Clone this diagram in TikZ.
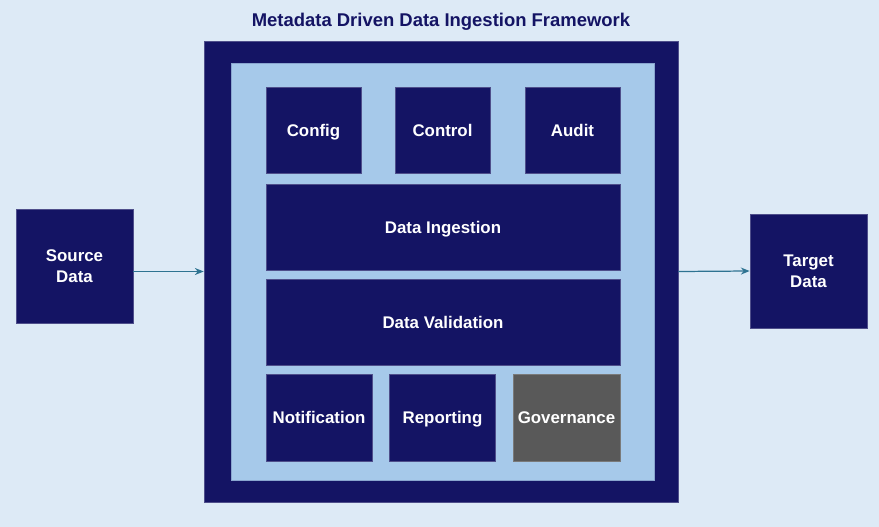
\documentclass[tikz,border=0pt]{standalone}
\usepackage{fontspec}
\setmainfont{Liberation Sans}
\usetikzlibrary{arrows.meta}
\definecolor{bgblue}{HTML}{DDEAF6}
\definecolor{navy}{HTML}{141464}
\definecolor{paleblue}{HTML}{A6C9EA}
\definecolor{govgrey}{HTML}{595959}
\definecolor{flowteal}{HTML}{2E7391}
\tikzset{
  block/.style={fill=navy, draw=navy!75!white, line width=0.4pt, text=white,
    font=\fontsize{9.6}{12}\selectfont\bfseries, align=center, inner sep=0pt},
  oneline/.style={block, text height=1.6ex, text depth=0.3ex},
  flow/.style={flowteal, line width=0.7pt, -{Stealth[length=5pt,width=4pt]}}
}
\begin{document}
\begin{tikzpicture}[x=0.02cm, y=-0.02cm]

\fill[bgblue] (0,0) rectangle (879,527);
\useasboundingbox (0,0) rectangle (879,527);

% framework
\node[block, minimum width=474*0.02cm, minimum height=461*0.02cm] (frame) at (441,271.5) {};
\node[fill=paleblue, draw=paleblue!80!navy, line width=0.3pt, minimum width=423*0.02cm, minimum height=417*0.02cm, inner sep=0pt] (inner) at (442.5,271.5) {};
\node[text=navy, font=\fontsize{10.5}{12}\selectfont\bfseries] (title) at (441,22) {Metadata Driven Data Ingestion Framework};

% top row
\node[oneline, minimum width=95*0.02cm, minimum height=86*0.02cm] (config) at (313.5,130) {Config};
\node[oneline, minimum width=95*0.02cm, minimum height=86*0.02cm] (control) at (442.5,130) {Control};
\node[oneline, minimum width=95*0.02cm, minimum height=86*0.02cm] (audit) at (572.5,130) {Audit};

% wide rows
\node[oneline, minimum width=354*0.02cm, minimum height=86*0.02cm] (ingest) at (443,227) {Data Ingestion};
\node[oneline, minimum width=354*0.02cm, minimum height=86*0.02cm] (valid) at (443,322) {Data Validation};

% bottom row
\node[oneline, minimum width=106*0.02cm, minimum height=87*0.02cm] (notify) at (319,417.5) {Notification};
\node[oneline, minimum width=106*0.02cm, minimum height=87*0.02cm] (report) at (442.5,417.5) {Reporting};
\node[oneline, fill=govgrey, draw=govgrey!80!white, minimum width=107*0.02cm, minimum height=87*0.02cm] (gov) at (566.5,417.5) {Governance};

% source and target
\node[block, minimum width=117*0.02cm, minimum height=114*0.02cm] (src) at (74.5,266) {Source\\Data};
\node[block, minimum width=117*0.02cm, minimum height=114*0.02cm] (tgt) at (808.5,271) {Target\\Data};

\draw[flow] (frame.west -| src.east) -- (frame.west);
\draw[flow] (frame.east) -- (tgt.west);

\end{tikzpicture}
\end{document}
